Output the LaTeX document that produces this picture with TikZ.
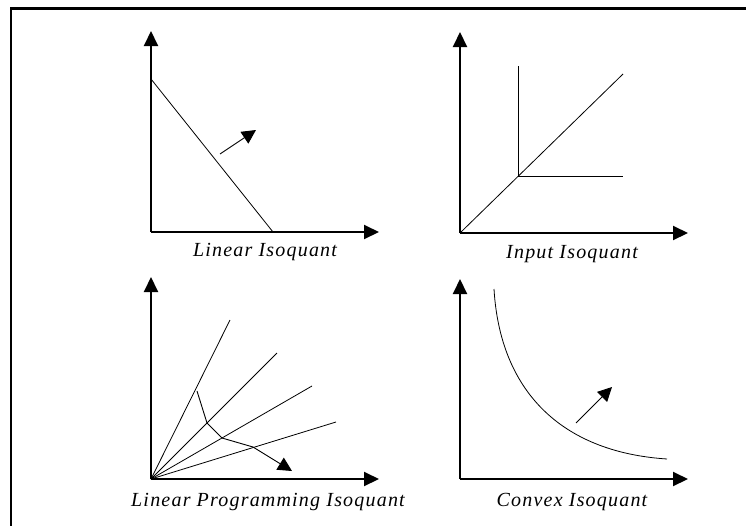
\documentclass[tikz,border=0pt]{standalone}
\usepackage{fontspec}
\setmainfont{Liberation Serif}
\newfontfamily\labfont[LetterSpace=6]{Liberation Serif}
\usetikzlibrary{arrows.meta}
\tikzset{
  axis/.style={line width=2pt,-{Triangle[length=15pt,width=14pt]}},
  curveline/.style={line width=0.8pt},
  dirarrow/.style={line width=0.9pt,-{Triangle[length=14pt,width=14pt]}},
  caption/.style={font=\labfont\itshape\fontsize{20}{22}\selectfont,anchor=base,inner sep=0pt},
  frameline/.style={line width=2.5pt}
}
\begin{document}
\begin{tikzpicture}[x=1pt,y=-1pt]
\useasboundingbox (0,0) rectangle (746,525);
% frame
\draw[frameline] (11,530) -- (11,8.5) -- (750,8.5);

% ---------- panel 1: Linear Isoquant
\coordinate (o1) at (151,232);
\coordinate (y1) at (151,31);
\coordinate (x1) at (379,232);
\draw[axis] (o1) -- (y1);
\draw[axis] (o1) -- (x1);
\coordinate (l1a) at (151,79);
\coordinate (l1b) at (273,232);
\draw[curveline] (l1a) -- (l1b);
\coordinate (a1s) at (220,154);
\coordinate (a1e) at (256,130);
\draw[dirarrow] (a1s) -- (a1e);
\node[caption] (c1) at (265,256) {Linear Isoquant};

% ---------- panel 2: Input Isoquant
\coordinate (o2) at (460,233);
\coordinate (y2) at (460,32);
\coordinate (x2) at (688,233);
\draw[axis] (o2) -- (y2);
\draw[axis] (o2) -- (x2);
\coordinate (d2) at (623,74);
\draw[curveline] (o2) -- (d2);
\coordinate (k2top) at (518,66);
\coordinate (k2) at (518,176);
\coordinate (k2right) at (623,176);
\draw[curveline] (k2top) -- (k2) -- (k2right);
\node[caption] (c2) at (572,258) {Input Isoquant};

% ---------- panel 3: Linear Programming Isoquant
\coordinate (o3) at (151,479);
\coordinate (y3) at (151,277);
\coordinate (x3) at (379,479);
\draw[axis] (o3) -- (y3);
\draw[axis] (o3) -- (x3);
\coordinate (r1) at (230,320);
\coordinate (r2) at (277,353);
\coordinate (r3) at (312,386);
\coordinate (r4) at (336,422);
\foreach \r in {r1,r2,r3,r4} \draw[curveline] (o3) -- (\r);
\coordinate (p1) at (197,391);
\coordinate (p2) at (207,423);
\coordinate (p3) at (222,438);
\coordinate (p4) at (253,447);
\coordinate (p5) at (292,471);
\draw[line width=0.9pt,line join=round] (p1) -- (p2) -- (p3) -- (p4);
\draw[dirarrow] (p4) -- (p5);
\node[caption] (c3) at (268,506) {Linear Programming Isoquant};

% ---------- panel 4: Convex Isoquant
\coordinate (o4) at (460,479);
\coordinate (y4) at (460,279);
\coordinate (x4) at (688,479);
\draw[axis] (o4) -- (y4);
\draw[axis] (o4) -- (x4);
\coordinate (cv1) at (494,289);
\coordinate (cv2) at (667,459);
\draw[curveline] (cv1) .. controls (500,390) and (560,452) .. (cv2);
\coordinate (a4s) at (576,423);
\coordinate (a4e) at (612,387);
\draw[dirarrow] (a4s) -- (a4e);
\node[caption] (c4) at (572,506) {Convex Isoquant};
\end{tikzpicture}
\end{document}
